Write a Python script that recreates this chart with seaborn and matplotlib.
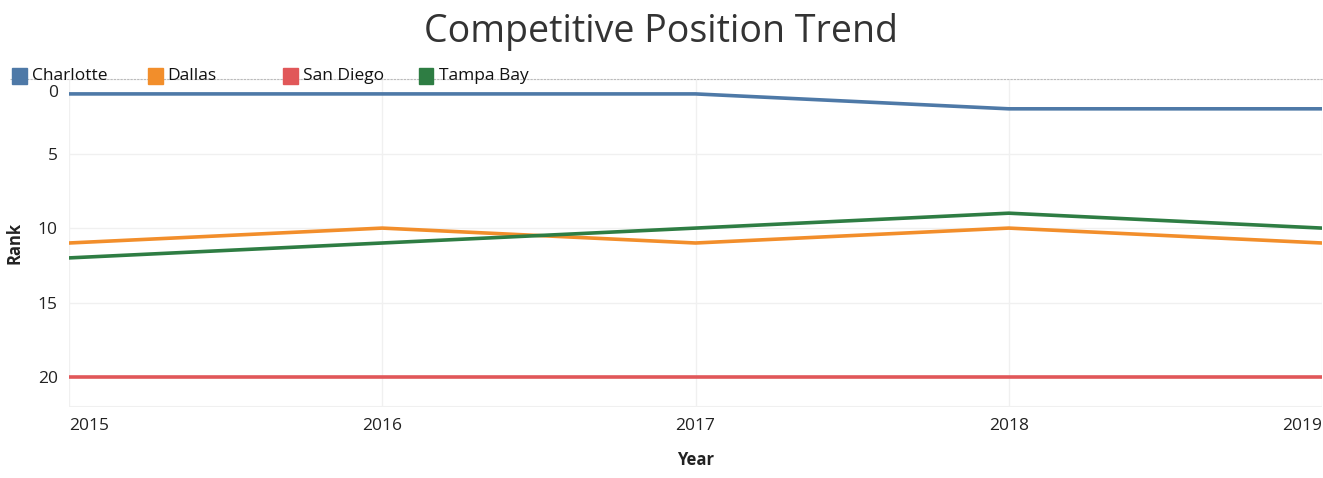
import matplotlib
matplotlib.use("Agg")
import matplotlib.pyplot as plt
from matplotlib.patches import Rectangle
from matplotlib.lines import Line2D
from matplotlib.transforms import ScaledTranslation
import seaborn as sns
import pandas as pd

# Dados
anos = [2015, 2016, 2017, 2018, 2019]
charlotte = [1, 1, 1, 2, 2]
dallas = [11, 10, 11, 10, 11]
san_diego = [20, 20, 20, 20, 20]
tampa_bay = [12, 11, 10, 9, 10]

cidades = ["Charlotte", "Dallas", "San Diego", "Tampa Bay"]
cores = ["#4e79a7", "#f28e2b", "#e15759", "#2e7d43"]

df = pd.DataFrame({
    "Year": anos * 4,
    "Rank": charlotte + dallas + san_diego + tampa_bay,
    "Team": sum([[c] * len(anos) for c in cidades], []),
})

sns.set_theme(style="white")
plt.rcParams["font.family"] = ["Open Sans", "DejaVu Sans"]

fig = plt.figure(figsize=(13.23, 4.78), dpi=100)
ax = fig.add_axes([69 / 1323, 1 - 407 / 478, 1 - 69 / 1323 - 1 / 1323, (407 - 79) / 478])

sns.lineplot(data=df, x="Year", y="Rank", hue="Team", palette=dict(zip(cidades, cores)),
             linewidth=2.6, ax=ax, legend=False)

ax.set_xlim(2015, 2019)
ax.set_ylim(22, 0)
ax.set_xticks(anos)
ax.set_yticks([0, 5, 10, 15, 20])
ax.grid(True, color="#f0f0f0", linewidth=1)
ax.axhline(22, color="#f0f0f0", linewidth=1.5)
for s in ax.spines.values():
    s.set_visible(False)

ax.tick_params(axis="both", labelsize=12.5, colors="#222222", length=0)
ax.tick_params(axis="x", pad=8)
ax.tick_params(axis="y", pad=8)
xl = ax.get_xticklabels()
xl[0].set_ha("left")
xl[-1].set_ha("right")
yl = ax.get_yticklabels()
yl[0].set_va("top")
yl[0].set_transform(yl[0].get_transform() + ScaledTranslation(0, -4 / 72, fig.dpi_scale_trans))

ax.set_xlabel("Year", fontsize=12, fontweight="bold", color="#222222", labelpad=12)
ax.set_ylabel("Rank", fontsize=12, fontweight="bold", color="#222222", labelpad=10)

fig.suptitle("Competitive Position Trend", fontsize=27, color="#333333", y=0.972)

# Linha pontilhada do topo e legenda
fig.add_artist(Line2D([10 / 1323, 1], [1 - 79 / 478] * 2, color="#bbbbbb",
                      linewidth=0.8, linestyle=(0, (2, 1)), zorder=1))
for i, (c, cor) in enumerate(zip(cidades, cores)):
    x0 = (12 + i * 135.5) / 1323
    fig.add_artist(Rectangle((x0, 1 - 84 / 478), 15 / 1323, 16 / 478, zorder=3,
                             color=cor, transform=fig.transFigure))
    fig.text(x0 + 20 / 1323, 1 - 76.5 / 478, c, fontsize=12.5, va="center", color="#111111", zorder=3)

plt.savefig("out.png", dpi=100)
